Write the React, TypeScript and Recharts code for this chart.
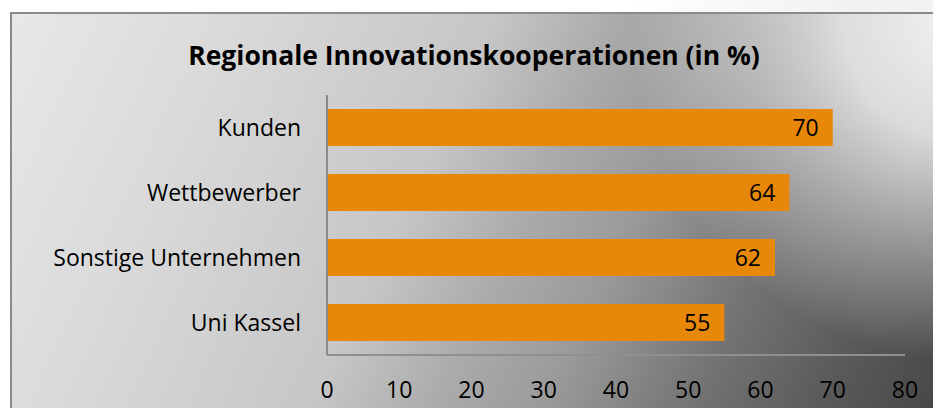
import React from 'react';
import { BarChart, Bar, XAxis, YAxis, LabelList } from 'recharts';

const categories = ['Kunden', 'Wettbewerber', 'Sonstige Unternehmen', 'Uni Kassel'];
const values = [70, 64, 62, 55];
const xTicks = [0, 10, 20, 30, 40, 50, 60, 70, 80];
const title = 'Regionale Innovationskooperationen (in %)';

const data = categories.map((name, i) => ({ name, value: values[i] }));

const FONT = '"Open Sans", Lato, sans-serif';

// grey panel behind the chart: dark towards the lower right, a light glow in the top right corner
function Panel() {
  return (
    <svg width={933} height={408} style={{ position: 'absolute', left: 0, top: 0 }}>
      <defs>
        <linearGradient id="base" gradientUnits="userSpaceOnUse" x1={17} y1={-2} x2={925} y2={422}>
          <stop offset="0" stopColor="#e8e8e8" />
          <stop offset="0.2" stopColor="#dadada" />
          <stop offset="0.44" stopColor="#c6c6c6" />
          <stop offset="0.55" stopColor="#ababab" />
          <stop offset="0.65" stopColor="#9a9a9a" />
          <stop offset="0.78" stopColor="#747474" />
          <stop offset="0.9" stopColor="#5a5a5a" />
          <stop offset="1" stopColor="#484848" />
        </linearGradient>
        <radialGradient id="glow" cx="50%" cy="50%" r="50%">
          <stop offset="0" stopColor="#f2f2f2" stopOpacity={1} />
          <stop offset="0.35" stopColor="#f0f0f0" stopOpacity={0.85} />
          <stop offset="0.65" stopColor="#eeeeee" stopOpacity={0.45} />
          <stop offset="1" stopColor="#eeeeee" stopOpacity={0} />
        </radialGradient>
      </defs>
      <rect x={0} y={0} width={933} height={408} fill="#ffffff" />
      <rect x={10} y={12} width={940} height={420} fill="url(#base)" />
      <ellipse cx={960} cy={20} rx={330} ry={340} fill="url(#glow)" />
      <line x1={10} y1={13} x2={933} y2={13} stroke="#8a8a8a" strokeWidth={2} />
      <line x1={11} y1={12} x2={11} y2={408} stroke="#8a8a8a" strokeWidth={2} />
    </svg>
  );
}

export default function App() {
  return (
    <div style={{ position: 'fixed', left: 0, top: 0, width: 933, height: 408, background: '#fff', overflow: 'hidden' }}>
      <Panel />
      <div
        style={{
          position: 'absolute',
          left: 0,
          top: 36,
          width: 948,
          textAlign: 'center',
          fontFamily: FONT,
          fontWeight: 700,
          fontSize: 26.5,
          color: '#000',
          lineHeight: '38px',
        }}
      >
        {title}
      </div>
      <div style={{ position: 'absolute', left: 0, top: 0 }}>
        <BarChart width={933} height={408} data={data} layout="vertical" margin={{ top: 95, right: 28, bottom: 0, left: 0 }}>
          <XAxis
            type="number"
            domain={[0, 80]}
            ticks={xTicks}
            height={53}
            tickSize={0}
            tickMargin={27}
            axisLine={{ stroke: '#8f8f8f', strokeWidth: 2 }}
            tick={{ fontSize: 23, fill: '#000', fontFamily: FONT }}
          />
          <YAxis
            type="category"
            dataKey="name"
            width={327}
            tickSize={0}
            tickMargin={26}
            axisLine={{ stroke: '#8a8a8a', strokeWidth: 2 }}
            tick={{ fontSize: 23, fill: '#000', fontFamily: FONT }}
          />
          <Bar dataKey="value" fill="#E8880A" barSize={37} isAnimationActive={false}>
            <LabelList dataKey="value" position="insideRight" offset={14} style={{ fontSize: 23, fill: '#000', fontFamily: FONT }} />
          </Bar>
        </BarChart>
      </div>
    </div>
  );
}
